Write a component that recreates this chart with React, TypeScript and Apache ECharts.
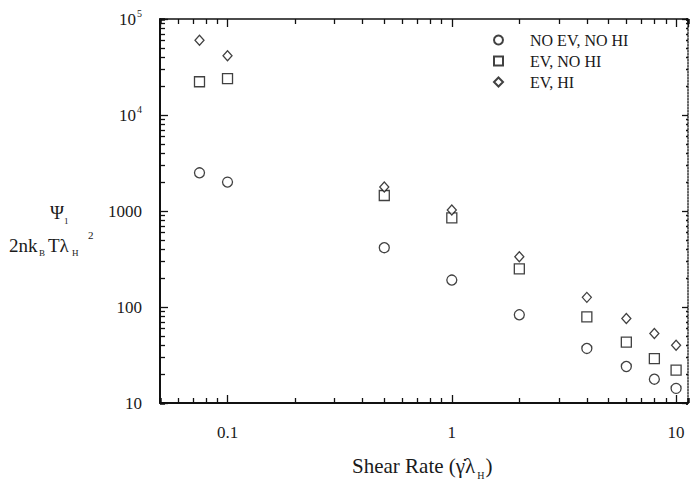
import React, { useEffect, useRef } from 'react';
import * as echarts from 'echarts';

// ---- data ----
const shearRates = [0.075, 0.1, 0.5, 1, 2, 4, 6, 8, 10];
const noEvNoHi = [2500, 2000, 415, 191, 83, 37, 24, 17.7, 14.2];
const evNoHi = [22200, 23900, 1450, 850, 249, 79, 43, 29, 22];
const evHi = [60000, 41500, 1780, 1025, 334, 126, 76, 53, 40];
const seriesNames = ['NO EV, NO HI', 'EV, NO HI', 'EV, HI'];
const xTickLabels: Record<string, string> = { '-1': '0.1', '0': '1', '1': '10' };
const yTickLabels: Record<string, string> = { '1': '10', '2': '100', '3': '1000', '4': '10{s|4}', '5': '10{s|5}' };

const X_MIN = 0.05;
const X_MAX = 11.3;
const Y_MIN = 10;
const Y_MAX = 100000;
// minor tick multipliers (2..9 within each decade)
const MINOR_MULTS = [2, 3, 4, 5, 6, 7, 8, 9];

const FONT = '"Liberation Serif", "DejaVu Serif", serif';
const INK = '#1a1a1a';

function decadeKey(v: number): string | null {
  const l = Math.log10(v);
  const r = Math.round(l);
  if (Math.abs(l - r) < 1e-6) return String(r);
  return null;
}

function txt(text: string, x: number, y: number, size: number, align: string = 'left') {
  return {
    type: 'text',
    x,
    y,
    silent: true,
    style: { text, fontFamily: FONT, fontSize: size, fill: INK, align, verticalAlign: 'middle' },
  };
}

// A hidden log axis whose range is the main range divided by m puts its
// power-of-ten ticks exactly where m·10^k falls on the main axis.
function minorAxis(min: number, max: number, m: number, position: string, len: number) {
  return {
    type: 'log',
    min: min / m,
    max: max / m,
    position,
    axisLine: { show: false },
    axisLabel: { show: false },
    splitLine: { show: false },
    axisTick: { show: true, inside: true, length: len, lineStyle: { color: '#111', width: 1.3 } },
  };
}

export default function App() {
  const ref = useRef<HTMLDivElement>(null);
  useEffect(() => {
    if (!ref.current) return;
    const chart = echarts.init(ref.current, null, { renderer: 'svg' });
    const pts = (ys: number[]) => shearRates.map((x, i) => [x, ys[i]]);
    const markerStyle = () => ({ color: '#ffffff', borderColor: '#111111', borderWidth: 1.3 });
    const axisLabelBase = { fontFamily: FONT, fontSize: 17, color: INK };
    const majorTick = (len: number) => ({
      show: true,
      inside: true,
      length: len,
      lineStyle: { color: '#111', width: 1.3 },
    });

    const xAxes: any[] = [
      {
        type: 'log',
        min: X_MIN,
        max: X_MAX,
        position: 'bottom',
        axisLine: { show: true, lineStyle: { color: '#111', width: 2 } },
        axisTick: majorTick(8),
        splitLine: { show: false },
        axisLabel: {
          ...axisLabelBase,
          margin: 21,
          showMinLabel: false,
          showMaxLabel: false,
          formatter: (v: number) => {
            const k = decadeKey(v);
            return k !== null && xTickLabels[k] ? xTickLabels[k] : '';
          },
        },
      },
      {
        type: 'log',
        min: X_MIN,
        max: X_MAX,
        position: 'top',
        axisLine: { show: true, lineStyle: { color: '#111', width: 1.5 } },
        axisTick: majorTick(8),
        axisLabel: { show: false },
        splitLine: { show: false },
      },
    ];
    MINOR_MULTS.forEach((m) => {
      xAxes.push(minorAxis(X_MIN, X_MAX, m, 'bottom', 5));
      xAxes.push(minorAxis(X_MIN, X_MAX, m, 'top', 5));
    });

    const yAxes: any[] = [
      {
        type: 'log',
        min: Y_MIN,
        max: Y_MAX,
        position: 'left',
        axisLine: { show: true, lineStyle: { color: '#111', width: 2 } },
        axisTick: majorTick(8),
        splitLine: { show: false },
        axisLabel: {
          ...axisLabelBase,
          margin: 18,
          formatter: (v: number) => {
            const k = decadeKey(v);
            return k !== null && yTickLabels[k] ? yTickLabels[k] : '';
          },
          rich: {
            s: { fontFamily: FONT, fontSize: 10, color: INK, padding: [0, 0, 12, 1] },
          },
        },
      },
      {
        type: 'log',
        min: Y_MIN,
        max: Y_MAX,
        position: 'right',
        axisLine: { show: true, lineStyle: { color: '#333', width: 1.5, type: 'dotted' } },
        axisTick: majorTick(6),
        axisLabel: { show: false },
        splitLine: { show: false },
      },
    ];
    MINOR_MULTS.forEach((m) => {
      yAxes.push(minorAxis(Y_MIN, Y_MAX, m, 'left', 5));
      yAxes.push(minorAxis(Y_MIN, Y_MAX, m, 'right', 2));
    });

    chart.setOption({
      animation: false,
      backgroundColor: '#ffffff',
      grid: { left: 160, top: 19, right: 3, bottom: 77 },
      legend: {
        data: seriesNames,
        orient: 'vertical',
        left: 488,
        top: 27,
        itemWidth: 9,
        itemHeight: 9,
        itemGap: 5,
        selectedMode: false,
        textStyle: { fontFamily: FONT, fontSize: 16, color: INK, padding: [0, 0, 0, 22] },
      },
      xAxis: xAxes,
      yAxis: yAxes,
      graphic: [
        // y-axis title: Ψ1 over 2nkBTλH²
        txt('Ψ', 57, 212, 19, 'center'),
        txt('1', 64, 221, 9),
        txt('2nk', 9, 245, 19),
        txt('B', 39, 253, 9),
        txt('Tλ', 48, 245, 19),
        txt('H', 72, 253, 9),
        txt('2', 88, 235, 11),
        {
          type: 'text',
          left: 352,
          top: 455,
          silent: true,
          style: {
            text: 'Shear Rate (γ̇λ{sub|H})',
            fontFamily: FONT,
            fontSize: 21,
            fill: INK,
            rich: { sub: { fontFamily: FONT, fontSize: 10, fill: INK, padding: [20, 1, 0, 2] } },
          },
        },
      ],
      series: [
        {
          name: seriesNames[0],
          type: 'scatter',
          xAxisIndex: 0,
          yAxisIndex: 0,
          symbol: 'circle',
          symbolSize: 10,
          itemStyle: markerStyle(),
          data: pts(noEvNoHi),
          z: 3,
        },
        {
          name: seriesNames[1],
          type: 'scatter',
          xAxisIndex: 0,
          yAxisIndex: 0,
          symbol: 'rect',
          symbolSize: 10,
          itemStyle: markerStyle(),
          data: pts(evNoHi),
          z: 3,
        },
        {
          name: seriesNames[2],
          type: 'scatter',
          xAxisIndex: 0,
          yAxisIndex: 0,
          symbol: 'diamond',
          symbolSize: [9, 10],
          itemStyle: markerStyle(),
          data: pts(evHi),
          z: 4,
        },
      ],
    });
    return () => chart.dispose();
  }, []);
  return <div ref={ref} style={{ width: 691, height: 480, position: 'absolute', left: 0, top: 0 }} />;
}
